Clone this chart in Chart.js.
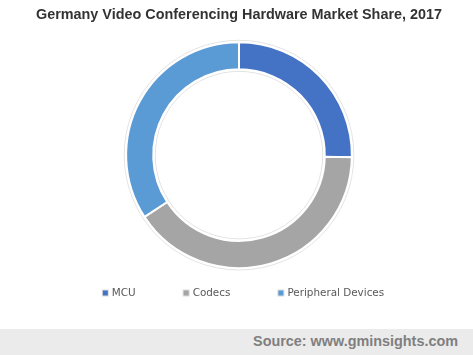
<!DOCTYPE html>
<html>
<head>
<meta charset="utf-8">
<script src="https://cdn.jsdelivr.net/npm/chart.js@4.4.1/dist/chart.umd.min.js"></script>
<style>
  html, body { margin: 0; padding: 0; background: #ffffff; }
  #wrap { position: relative; width: 473px; height: 355px; overflow: hidden; }
  #cv { position: absolute; left: 0; top: 0; }
  #footer {
    position: absolute; left: 0; top: 329px; width: 473px; height: 26px;
    background: #ebebeb;
  }
  #footer span {
    position: absolute; right: 15px; top: 4px;
    font: bold 14.4px "Liberation Sans", Arial, sans-serif; color: #7f7f7f;
  }
</style>
</head>
<body>
<div id="wrap">
  <canvas id="cv" width="473" height="329"></canvas>
  <div id="footer"><span>Source: www.gminsights.com</span></div>
</div>
<script>
const titleText = "Germany Video Conferencing Hardware Market Share, 2017";
const categories = ["MCU", "Codecs", "Peripheral Devices"];
const shares = [25.3, 40.5, 34.2];
const colors = ["#4472C4", "#A5A5A5", "#5B9BD5"];

const ringOutline = {
  id: "ringOutline",
  beforeDatasetsDraw(chart) {
    const arc = chart.getDatasetMeta(0).data[0];
    if (!arc) return;
    const ctx = chart.ctx;
    ctx.save();
    ctx.strokeStyle = "#e3e3e3";
    ctx.lineWidth = 1;
    ctx.beginPath();
    ctx.arc(arc.x, arc.y, arc.outerRadius + 2, 0, Math.PI * 2);
    ctx.stroke();
    ctx.beginPath();
    ctx.arc(arc.x, arc.y, Math.max(arc.innerRadius - 2, 0), 0, Math.PI * 2);
    ctx.stroke();
    ctx.restore();
  }
};

const bottomLegend = {
  id: "bottomLegend",
  afterDraw(chart) {
    const ctx = chart.ctx;
    const labels = chart.data.labels;
    const bg = chart.data.datasets[0].backgroundColor;
    const y = 293;
    const box = 5, boxGap = 4, itemGap = 48;
    ctx.save();
    ctx.font = "10.4px 'DejaVu Sans', sans-serif";
    const widths = labels.map(t => box + boxGap + ctx.measureText(t).width);
    const total = widths.reduce((a, b) => a + b, 0) + itemGap * (labels.length - 1);
    let x = 243.5 - total / 2;
    ctx.textBaseline = "middle";
    ctx.textAlign = "left";
    labels.forEach((t, i) => {
      ctx.fillStyle = "#dcdcdc";
      ctx.fillRect(x - 1, y - box / 2 - 1, box + 2, box + 2);
      ctx.fillStyle = bg[i];
      ctx.fillRect(x, y - box / 2, box, box);
      ctx.fillStyle = "#595959";
      ctx.fillText(t, x + box + boxGap, y);
      x += widths[i] + itemGap;
    });
    ctx.restore();
  }
};

new Chart(document.getElementById("cv"), {
  type: "doughnut",
  data: {
    labels: categories,
    datasets: [{
      data: shares,
      backgroundColor: colors,
      borderColor: "#ffffff",
      borderWidth: 2,
      hoverOffset: 0
    }]
  },
  options: {
    responsive: false,
    animation: false,
    cutout: "76%",
    layout: { padding: { left: 5, right: 0, top: 0, bottom: 60 } },
    plugins: {
      legend: { display: false },
      tooltip: { enabled: false },
      title: {
        display: true,
        text: titleText,
        color: "#333333",
        font: { family: "'Liberation Sans', Arial, sans-serif", size: 14.4, weight: "bold" },
        padding: { top: 6, bottom: 18 }
      }
    }
  },
  plugins: [ringOutline, bottomLegend]
});
</script>
</body>
</html>
